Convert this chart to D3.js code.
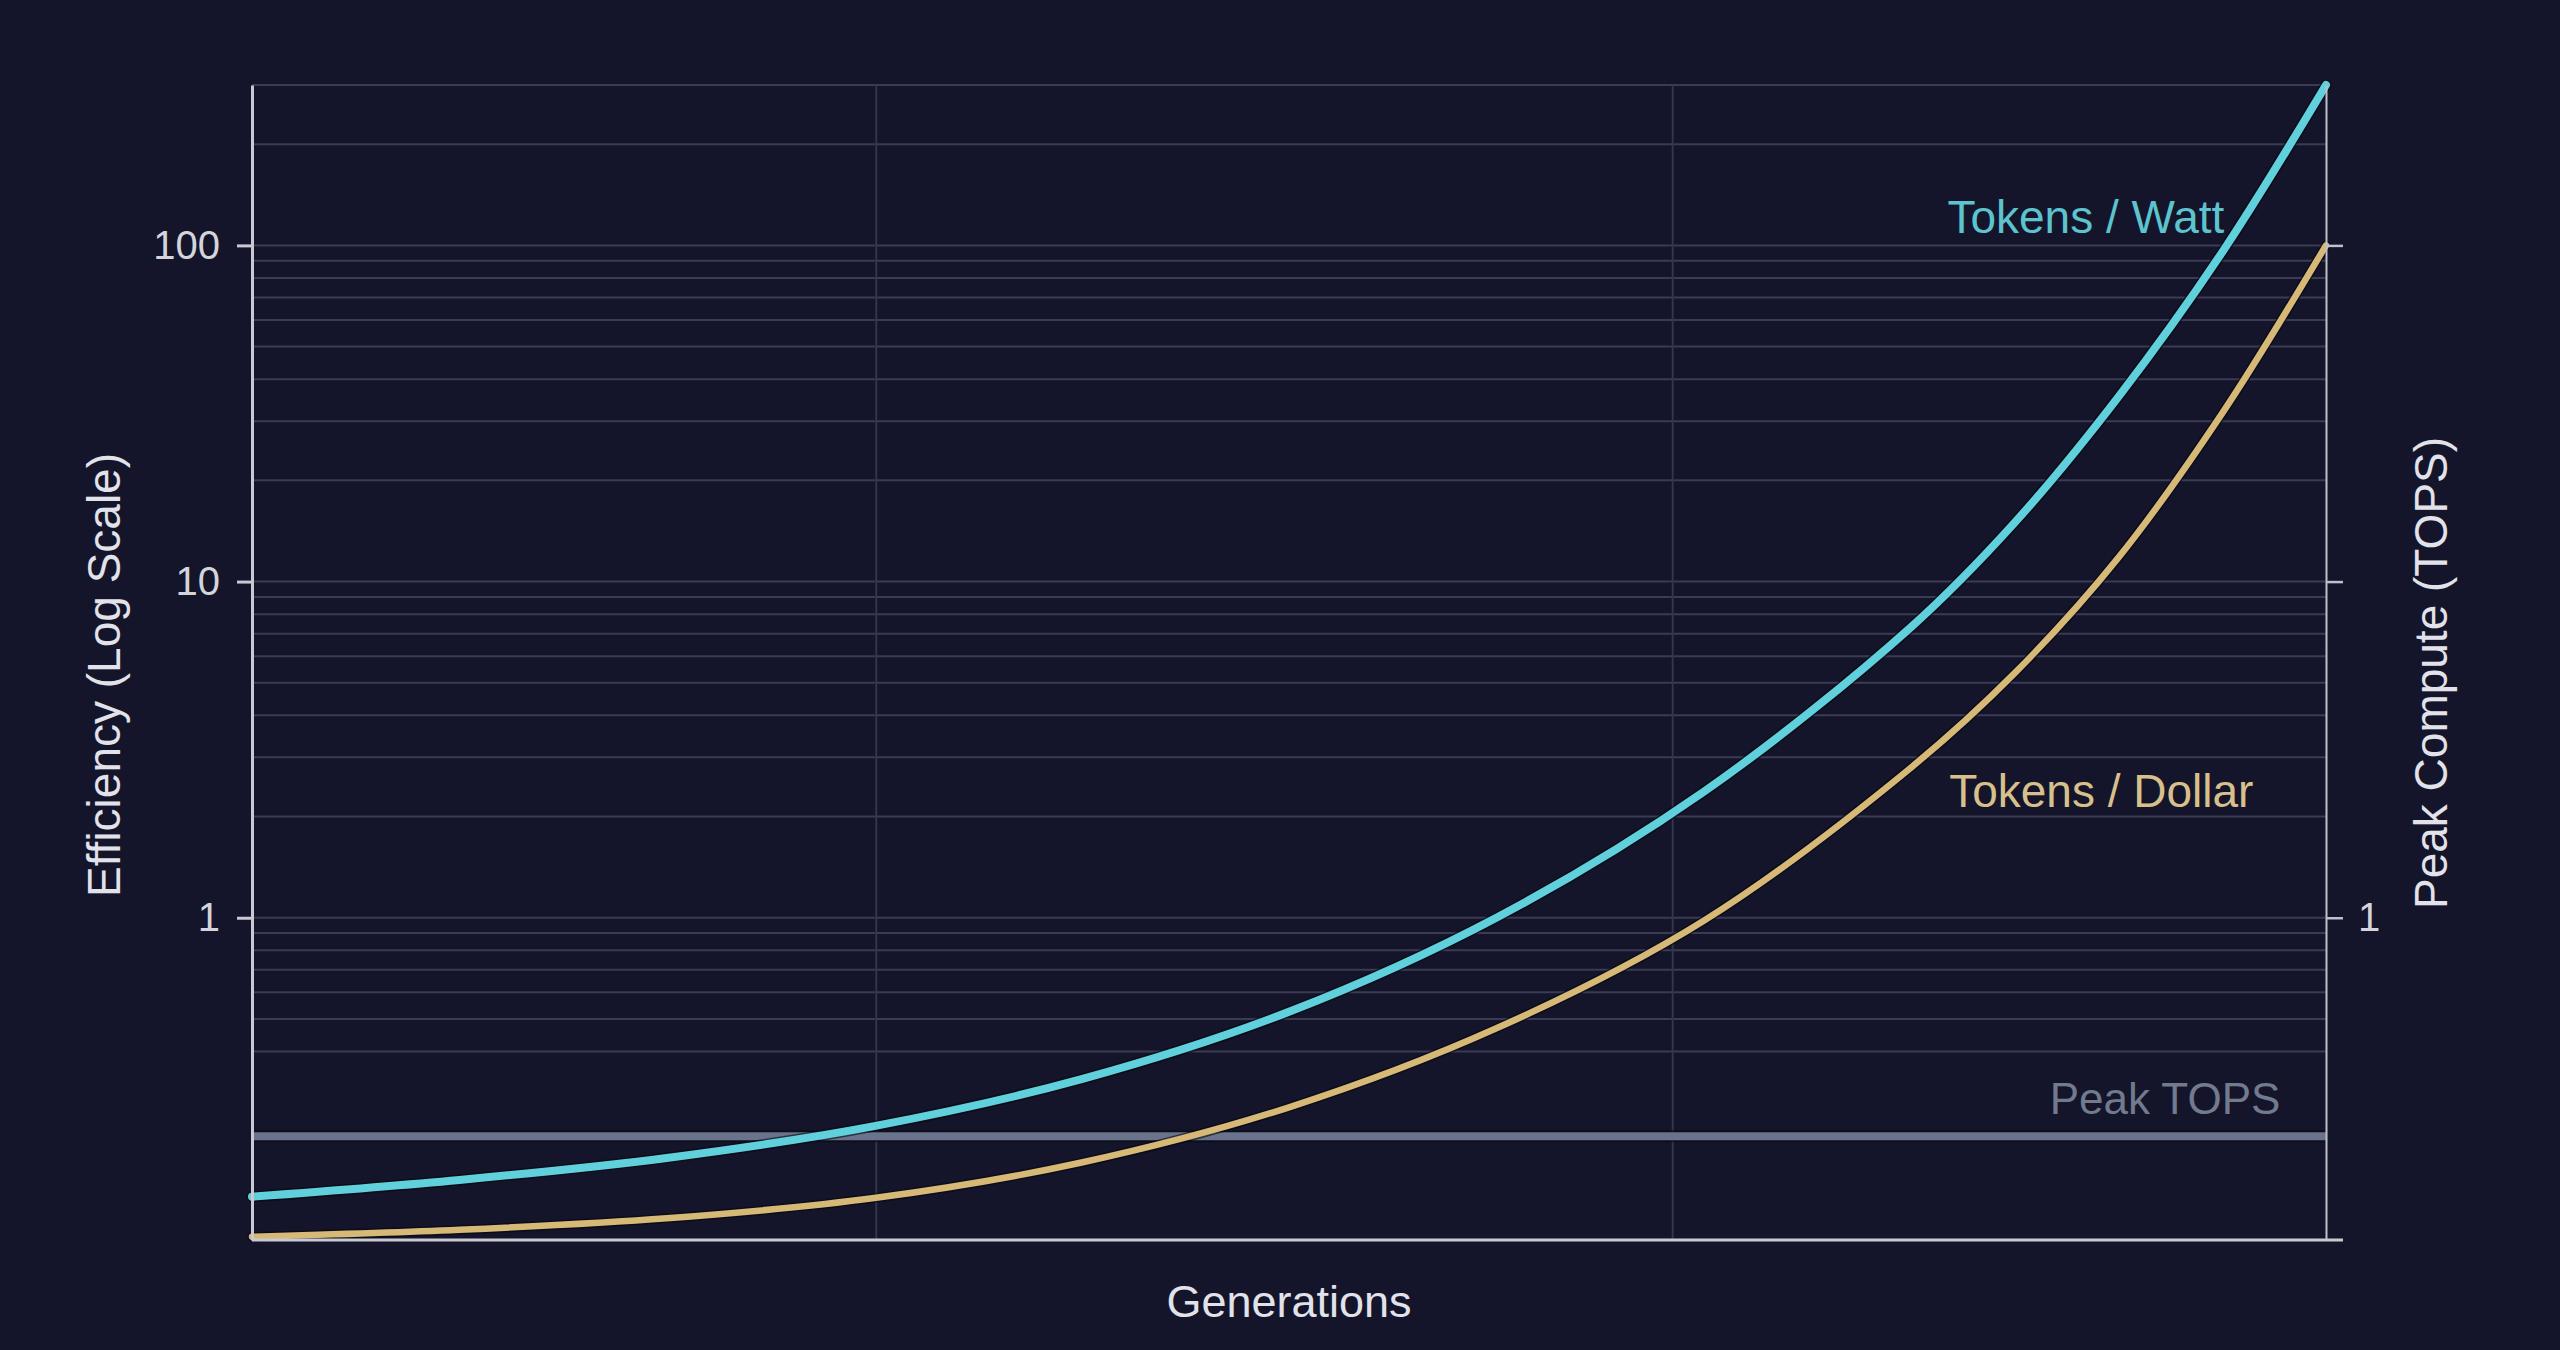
<!DOCTYPE html>
<html>
<head>
<meta charset="utf-8">
<script src="https://cdn.jsdelivr.net/npm/d3@7"></script>
<style>
  html, body { margin: 0; padding: 0; background: #14152a; }
  svg { display: block; }
  text { font-family: "Liberation Sans", Arial, sans-serif; }
</style>
</head>
<body>
<svg id="chart" width="2560" height="1350"></svg>
<script>
// data
const generations     = [0, 1, 2, 3, 4, 5, 6, 7, 8, 8.5, 9, 9.5, 10];
const tokensPerWatt   = [0.148, 0.166, 0.193, 0.24, 0.331, 0.525, 1.0, 2.37, 7.33, 15.0, 35.5, 95.5, 300];
const tokensPerDollar = [0.1125, 0.118, 0.1276, 0.1466, 0.187, 0.273, 0.469, 0.98, 2.8, 5.35, 11.8, 31.7, 100];
const peakTops = 0.224;

const gridGenerations = [3.01, 6.85];
const efficiencyGrid  = [0.4, 0.5, 0.6, 0.7, 0.8, 0.9,
                         1, 2, 3, 4, 5, 6, 7, 8, 9,
                         10, 20, 30, 40, 50, 60, 70, 80, 90,
                         100, 200, 300];
const leftTicks  = [1, 10, 100];
const rightTicks = [1, 10, 100];
const rightTickLabels = ["1", "", ""];

const svg = d3.select("#chart");
const width = 2560, height = 1350;
const margin = { top: 85, right: 234, bottom: 110, left: 252 };

svg.append("rect").attr("width", width).attr("height", height).attr("fill", "#14152a");

const x = d3.scaleLinear().domain([0, 10]).range([margin.left, width - margin.right]);
const y = d3.scaleLog().domain([0.11, 300]).range([height - margin.bottom, margin.top]);

// === grid ===
svg.append("g").selectAll("line")
    .data(efficiencyGrid).enter().append("line")
    .attr("x1", x(0)).attr("x2", x(10))
    .attr("y1", d => y(d)).attr("y2", d => y(d))
    .attr("stroke", "#3a3b54").attr("stroke-width", 2);

svg.append("g").selectAll("line")
    .data(gridGenerations).enter().append("line")
    .attr("x1", d => x(d)).attr("x2", d => x(d))
    .attr("y1", y(300)).attr("y2", y(0.11))
    .attr("stroke", "#33354d").attr("stroke-width", 2);

// === Peak TOPS ===
svg.append("line")
    .attr("x1", x(0)).attr("x2", x(10))
    .attr("y1", y(peakTops)).attr("y2", y(peakTops))
    .attr("stroke", "#0a0b18").attr("stroke-width", 12).attr("stroke-opacity", 0.7);
svg.append("line")
    .attr("x1", x(0)).attr("x2", x(10))
    .attr("y1", y(peakTops)).attr("y2", y(peakTops))
    .attr("stroke", "#69738b").attr("stroke-width", 8);

// === series ===
const line = d3.line()
    .x((d, i) => x(generations[i]))
    .y(d => y(d))
    .curve(d3.curveCatmullRom.alpha(0.5));

[[tokensPerDollar, "#d6b877", 6.5], [tokensPerWatt, "#5fd0dc", 8]].forEach(([vals, col, w]) => {
    svg.append("path").datum(vals).attr("d", line)
        .attr("fill", "none").attr("stroke", "#07070f").attr("stroke-opacity", 0.6)
        .attr("stroke-width", w + 3).attr("stroke-linecap", "round");
    svg.append("path").datum(vals).attr("d", line)
        .attr("fill", "none").attr("stroke", col)
        .attr("stroke-width", w).attr("stroke-linecap", "round");
});

// === axes ===
const leftAxis = svg.append("g").attr("transform", `translate(${x(0)},0)`)
    .call(d3.axisLeft(y).tickValues(leftTicks).tickFormat(d3.format("d"))
        .tickSize(15).tickSizeOuter(0).tickPadding(17));
leftAxis.select(".domain").attr("stroke", "#c9c9d2").attr("stroke-width", 3);
leftAxis.selectAll(".tick line").attr("stroke", "#c9c9d2").attr("stroke-width", 3);
leftAxis.selectAll(".tick text").attr("fill", "#d4d4dc").attr("font-size", 40)
    .attr("font-family", "Liberation Sans, Arial, sans-serif");

const rightAxis = svg.append("g").attr("transform", `translate(${x(10)},0)`)
    .call(d3.axisRight(y).tickValues(rightTicks).tickFormat((d, i) => rightTickLabels[i])
        .tickSize(17).tickSizeOuter(0).tickPadding(15));
rightAxis.select(".domain").attr("stroke", "#bfc0ca").attr("stroke-width", 2);
rightAxis.selectAll(".tick line").attr("stroke", "#bfc0ca").attr("stroke-width", 2.5);
rightAxis.selectAll(".tick text").attr("fill", "#d4d4dc").attr("font-size", 40)
    .attr("font-family", "Liberation Sans, Arial, sans-serif");

const bottomAxis = svg.append("g").attr("transform", `translate(0,${y(0.11)})`)
    .call(d3.axisBottom(x).tickValues([]).tickSizeOuter(0));
bottomAxis.select(".domain").attr("stroke", "#c9c9d2").attr("stroke-width", 3)
    .attr("d", `M${x(0)},0H${x(10) + 17}`);

// === labels ===
svg.append("text").attr("x", x(9.51)).attr("y", y(109))
    .attr("text-anchor", "end").attr("font-size", 46).attr("fill", "#5cc3cf")
    .text("Tokens / Watt");
svg.append("text").attr("x", x(9.65)).attr("y", y(2.14))
    .attr("text-anchor", "end").attr("font-size", 46).attr("fill", "#d8c08c")
    .text("Tokens / Dollar");
svg.append("text").attr("x", x(9.78)).attr("y", y(0.261))
    .attr("text-anchor", "end").attr("font-size", 44).attr("fill", "#727a8e")
    .text("Peak TOPS");

svg.append("text").attr("transform", "translate(120,675) rotate(-90)")
    .attr("text-anchor", "middle").attr("font-size", 46).attr("fill", "#e2e2ea")
    .text("Efficiency (Log Scale)");
svg.append("text").attr("transform", "translate(2447,673) rotate(-90)")
    .attr("text-anchor", "middle").attr("font-size", 46).attr("fill", "#e2e2ea")
    .text("Peak Compute (TOPS)");
svg.append("text").attr("x", (x(0) + x(10)) / 2).attr("y", 1317)
    .attr("text-anchor", "middle").attr("font-size", 45).attr("fill", "#e2e2ea")
    .text("Generations");
</script>
</body>
</html>
